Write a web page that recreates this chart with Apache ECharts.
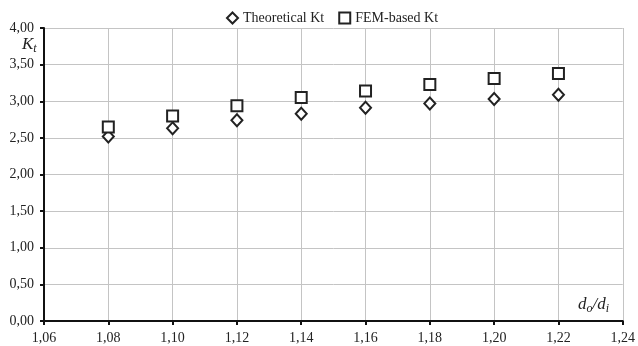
<!DOCTYPE html>
<html><head><meta charset="utf-8">
<script src="https://cdn.jsdelivr.net/npm/echarts@6/dist/echarts.min.js"></script>
<style>html,body{margin:0;padding:0;background:#fff}#c{width:638px;height:346px}</style>
</head><body><div id="c"></div>
<script>
const xValues = [1.08, 1.10, 1.12, 1.14, 1.16, 1.18, 1.20, 1.22];
const theoreticalKt = [2.52, 2.63, 2.74, 2.83, 2.91, 2.97, 3.03, 3.09];
const femKt = [2.65, 2.80, 2.94, 3.05, 3.14, 3.23, 3.31, 3.38];
const seriesNames = ['Theoretical Kt', 'FEM-based Kt'];

const font = 'Liberation Serif';
const chart = echarts.init(document.getElementById('c'));
const fmt = (v) => v.toFixed(2).replace('.', ',');
chart.setOption({
  animation: false,
  textStyle: { fontFamily: font },
  legend: {
    top: 6, left: 221, itemGap: 14, itemWidth: 11, itemHeight: 11, itemStyle: { borderWidth: 2 },
    textStyle: { fontFamily: font, fontSize: 14, color: '#222' },
    data: [
      { name: seriesNames[0], icon: 'diamond' },
      { name: seriesNames[1], icon: 'rect' }
    ]
  },
  grid: { left: 44, right: 9, top: 28, bottom: 25 },
  xAxis: {
    type: 'value', min: 1.06, max: 1.24, interval: 0.02,
    axisLine: { lineStyle: { color: '#111', width: 2 } },
    axisTick: { show: true, length: 4, lineStyle: { color: '#111', width: 2 } },
    axisLabel: { formatter: fmt, fontFamily: font, fontSize: 14, color: '#222', margin: 10 },
    splitLine: { show: true, lineStyle: { color: '#c4c4c4', width: 1 } }
  },
  yAxis: {
    type: 'value', min: 0, max: 4, interval: 0.5,
    axisLine: { show: true, lineStyle: { color: '#111', width: 2 } },
    axisTick: { show: true, length: 4, lineStyle: { color: '#111', width: 2 } },
    axisLabel: { formatter: fmt, fontFamily: font, fontSize: 14, color: '#222', margin: 10 },
    splitLine: { show: true, lineStyle: { color: '#c4c4c4', width: 1 } }
  },
  series: [
    {
      name: seriesNames[0], type: 'scatter', symbol: 'diamond', symbolSize: [11, 12],
      itemStyle: { color: '#fff', borderColor: '#222', borderWidth: 2, opacity: 1 },
      data: xValues.map((x, i) => [x, theoreticalKt[i]])
    },
    {
      name: seriesNames[1], type: 'scatter', symbol: 'rect', symbolSize: [11, 11],
      itemStyle: { color: '#fff', borderColor: '#222', borderWidth: 2, opacity: 1 },
      data: xValues.map((x, i) => [x, femKt[i]])
    }
  ],
  graphic: [
    {
      type: 'text', left: 22, top: 36,
      style: {
        text: '{k|K}{s|t}',
        rich: {
          k: { fontFamily: font, fontStyle: 'italic', fontSize: 17, fill: '#222' },
          s: { fontFamily: font, fontStyle: 'italic', fontSize: 12, fill: '#222', padding: [9, 0, 0, 0] }
        }
      }
    },
    {
      type: 'text', left: 578, top: 296,
      style: {
        text: '{k|d}{s|o}{k|/d}{s|i}',
        rich: {
          k: { fontFamily: font, fontStyle: 'italic', fontSize: 17, fill: '#222' },
          s: { fontFamily: font, fontStyle: 'italic', fontSize: 12, fill: '#222', padding: [9, 0, 0, 0] }
        }
      }
    }
  ]
});
</script></body></html>
